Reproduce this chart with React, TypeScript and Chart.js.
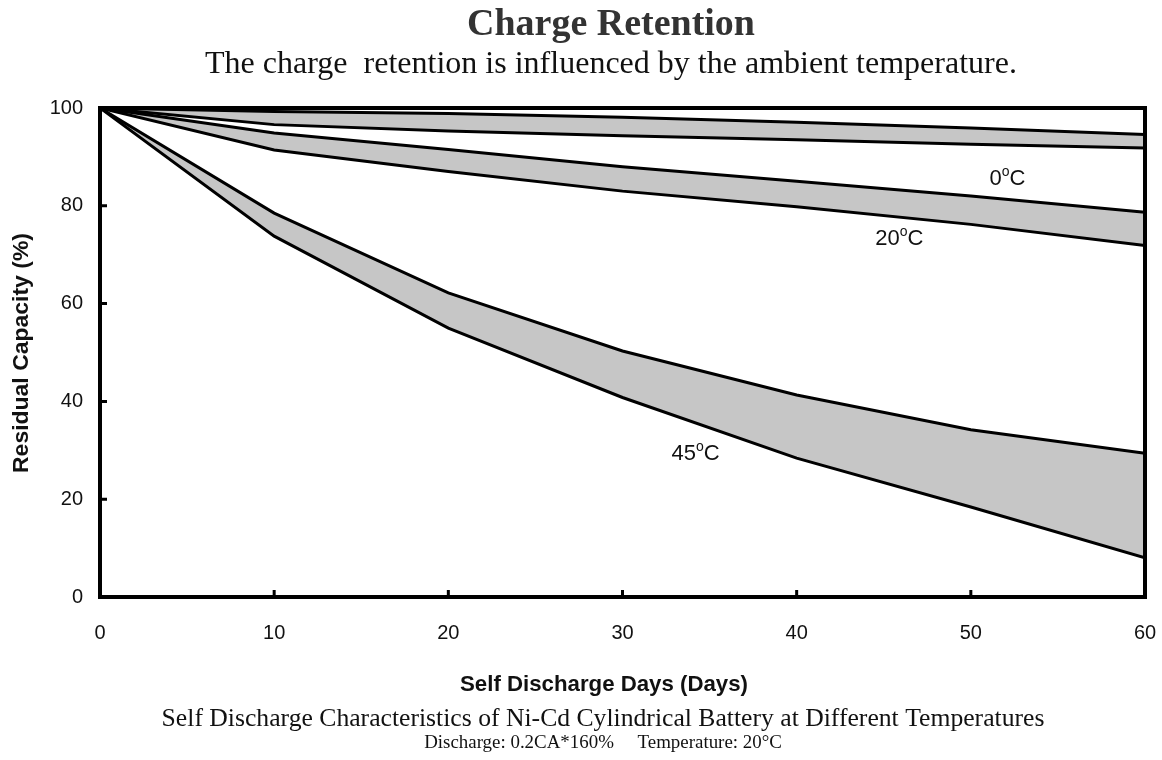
import React, { useEffect, useRef } from "react";
import { Chart, registerables } from "chart.js";

Chart.register(...registerables);

// ---- data ----
const days = [0, 10, 20, 30, 40, 50, 60];
const temp0Upper = [100, 99.3, 98.9, 98.1, 97.1, 95.9, 94.6];
const temp0Lower = [100, 96.6, 95.3, 94.3, 93.5, 92.6, 91.8];
const temp20Upper = [100, 94.9, 91.5, 88.0, 85.0, 82.0, 78.7];
const temp20Lower = [100, 91.4, 87.0, 83.0, 79.8, 76.2, 71.9];
const temp45Upper = [100, 78.5, 62.2, 50.3, 41.3, 34.2, 29.4];
const temp45Lower = [100, 73.8, 55.0, 40.8, 28.4, 18.4, 8.0];

const bandNames = ["0", "20", "45"];
const bandLabelDays = [52.1, 45.9, 34.2];
const bandLabelValues = [85.9, 73.6, 29.6];

const xTickValues = [0, 10, 20, 30, 40, 50, 60];
const yTickValues = [0, 20, 40, 60, 80, 100];

const titleText = "Charge Retention";
const subtitleText = "The charge  retention is influenced by the ambient temperature.";
const xTitleText = "Self Discharge Days (Days)";
const yTitleText = "Residual Capacity (%)";
const caption1Text =
  "Self Discharge Characteristics of Ni-Cd Cylindrical Battery at Different Temperatures";
const caption2Text = "Discharge: 0.2CA*160%     Temperature: 20\u00B0C";

const SANS = '"Liberation Sans", Arial, Helvetica, sans-serif';
const SERIF = '"Liberation Serif", "Times New Roman", Times, serif';
const BAND_FILL = "#c6c6c6";

function toPoints(values: number[]) {
  return values.map((v, i) => ({ x: days[i], y: v }));
}

function fittedText(
  ctx: CanvasRenderingContext2D,
  text: string,
  weight: string,
  family: string,
  targetWidth: number
) {
  ctx.font = `${weight} 100px ${family}`;
  const w = ctx.measureText(text).width;
  const size = (100 * targetWidth) / w;
  ctx.font = `${weight} ${size.toFixed(2)}px ${family}`;
}

const framePlugin = {
  id: "frameAndTicks",
  afterDatasetsDraw(chart: any) {
    const { ctx, chartArea, scales } = chart;
    const { left, right, top, bottom } = chartArea;
    ctx.save();
    ctx.strokeStyle = "#000";
    ctx.lineWidth = 4;
    ctx.strokeRect(left, top, right - left, bottom - top);
    ctx.lineWidth = 3;
    ctx.beginPath();
    yTickValues.forEach((v) => {
      if (v === 0 || v === 100) return;
      const y = scales.y.getPixelForValue(v);
      ctx.moveTo(left, y);
      ctx.lineTo(left + 7, y);
    });
    xTickValues.forEach((v) => {
      if (v === 0 || v === 60) return;
      const x = scales.x.getPixelForValue(v);
      ctx.moveTo(x, bottom);
      ctx.lineTo(x, bottom - 7);
    });
    ctx.stroke();

    // band labels with superscript degree "o"
    bandNames.forEach((name, i) => {
      const cx = scales.x.getPixelForValue(bandLabelDays[i]);
      const cy = scales.y.getPixelForValue(bandLabelValues[i]);
      const mainFont = `22px ${SANS}`;
      const supFont = `14px ${SANS}`;
      ctx.font = mainFont;
      const wMain = ctx.measureText(name).width;
      const wC = ctx.measureText("C").width;
      ctx.font = supFont;
      const wSup = ctx.measureText("o").width;
      const total = wMain + wSup + wC;
      let x = cx - total / 2;
      const baseline = cy + 8;
      ctx.fillStyle = "#111";
      ctx.textAlign = "left";
      ctx.textBaseline = "alphabetic";
      ctx.font = mainFont;
      ctx.fillText(name, x, baseline);
      x += wMain;
      ctx.font = supFont;
      ctx.fillText("o", x, baseline - 9);
      x += wSup;
      ctx.font = mainFont;
      ctx.fillText("C", x, baseline);
    });
    ctx.restore();
  },
};

const textPlugin = {
  id: "pageTexts",
  afterDraw(chart: any) {
    const { ctx } = chart;
    ctx.save();
    ctx.textAlign = "center";
    ctx.textBaseline = "alphabetic";

    ctx.fillStyle = "#333";
    fittedText(ctx, titleText, "bold", SERIF, 288);
    ctx.fillText(titleText, 611, 35);

    ctx.fillStyle = "#111";
    fittedText(ctx, subtitleText, "normal", SERIF, 812);
    ctx.fillText(subtitleText, 611, 73);

    fittedText(ctx, xTitleText, "bold", SANS, 288);
    ctx.fillText(xTitleText, 604, 691);

    fittedText(ctx, caption1Text, "normal", SERIF, 883);
    ctx.fillText(caption1Text, 603, 726);

    fittedText(ctx, caption2Text, "normal", SERIF, 358);
    ctx.fillText(caption2Text, 603, 748);

    ctx.save();
    ctx.translate(22, 353);
    ctx.rotate(-Math.PI / 2);
    ctx.textBaseline = "middle";
    fittedText(ctx, yTitleText, "bold", SANS, 240);
    ctx.fillText(yTitleText, 0, 0);
    ctx.restore();

    ctx.restore();
  },
};

export default function App() {
  const canvasRef = useRef<HTMLCanvasElement | null>(null);

  useEffect(() => {
    const canvas = canvasRef.current;
    if (!canvas) return;
    const line = (values: number[], fill: any) => ({
      data: toPoints(values),
      borderColor: "#000",
      borderWidth: 3,
      pointRadius: 0,
      tension: 0,
      fill,
      backgroundColor: BAND_FILL,
    });

    const chart = new Chart(canvas, {
      type: "line",
      data: {
        datasets: [
          line(temp0Upper, "+1"),
          line(temp0Lower, false),
          line(temp20Upper, "+1"),
          line(temp20Lower, false),
          line(temp45Upper, "+1"),
          line(temp45Lower, false),
        ],
      },
      options: {
        responsive: false,
        animation: false,
        events: [],
        layout: { padding: { top: 108, right: 17, left: 0, bottom: 0 } },
        plugins: {
          legend: { display: false },
          title: { display: false },
          tooltip: { enabled: false },
          filler: { drawTime: "beforeDatasetsDraw" },
        } as any,
        scales: {
          x: {
            type: "linear",
            min: 0,
            max: 60,
            afterFit: (s: any) => {
              s.height = 163;
              s.paddingLeft = 0;
              s.paddingRight = 0;
            },
            afterBuildTicks: (s: any) => {
              s.ticks = xTickValues.map((v) => ({ value: v }));
            },
            grid: { display: false, drawTicks: false },
            border: { display: false },
            ticks: {
              color: "#111",
              font: { family: SANS, size: 20 },
              padding: 24,
              maxRotation: 0,
              autoSkip: false,
            },
          },
          y: {
            type: "linear",
            min: 0,
            max: 100,
            afterFit: (s: any) => {
              s.width = 100;
              s.paddingTop = 0;
              s.paddingBottom = 0;
            },
            afterBuildTicks: (s: any) => {
              s.ticks = yTickValues.map((v) => ({ value: v }));
            },
            grid: { display: false, drawTicks: false },
            border: { display: false },
            ticks: {
              color: "#111",
              font: { family: SANS, size: 20 },
              padding: 17,
              autoSkip: false,
            },
          },
        },
      },
      plugins: [framePlugin, textPlugin],
    });
    return () => chart.destroy();
  }, []);

  return (
    <div style={{ position: "fixed", left: 0, top: 0, width: 1162, height: 760, background: "#fff" }}>
      <canvas ref={canvasRef} width={1162} height={760} style={{ display: "block" }} />
    </div>
  );
}
